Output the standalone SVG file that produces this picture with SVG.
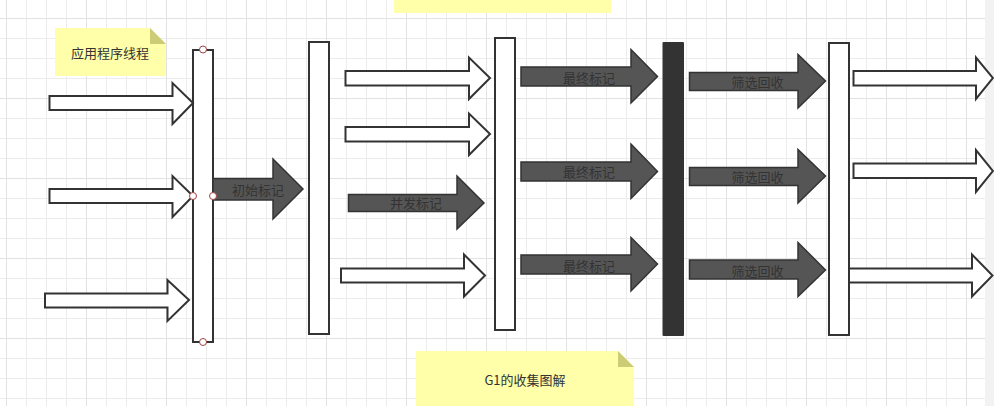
<svg xmlns="http://www.w3.org/2000/svg" width="994" height="406" viewBox="0 0 994 406">
<defs>
<pattern id="minor" patternUnits="userSpaceOnUse" x="6" y="18" width="20" height="20"><rect x="0" y="0" width="20" height="1" fill="#ececec"/><rect x="0" y="0" width="1" height="20" fill="#ececec"/></pattern>
<pattern id="major" patternUnits="userSpaceOnUse" x="6" y="18" width="80" height="80"><rect x="0" y="0" width="80" height="1" fill="#e2e2e2"/><rect x="0" y="0" width="1" height="80" fill="#e2e2e2"/></pattern>
<style>
.bar{fill:#fff;stroke:#333;stroke-width:2}
.wa{fill:#fff;stroke:#333;stroke-width:2;stroke-linejoin:miter}
.da{fill:#555;stroke:#333;stroke-width:1.5}
.note{fill:#ffffaa}
.fold{fill:#cccc77}
.t{font-family:"Noto Sans CJK SC","Liberation Sans",sans-serif;font-size:13px;fill:#333;text-anchor:middle;dominant-baseline:central}
.h{fill:#fff;stroke:#a04444;stroke-width:1}
</style>
</defs>
<rect width="994" height="406" fill="#fff"/>
<rect width="985" height="406" fill="url(#minor)"/>
<rect width="985" height="406" fill="url(#major)"/>
<rect x="985" y="0" width="9" height="406" fill="#f2f2f2"/>

<g id="note-top"><rect class="note" x="394" y="0" width="217" height="13"/></g>
<g id="note-app">
<path class="note" d="M55 28 L150 28 L166 44 L166 76 L55 76 Z"/>
<path class="fold" d="M150 28 L166 44 L150 44 Z"/>
<text class="t" x="110" y="52">应用程序线程</text>
</g>
<g id="note-g1">
<path class="note" d="M416 351 L618 351 L634 367 L634 406 L416 406 Z"/>
<path class="fold" d="M618 351 L634 367 L618 367 Z"/>
<text class="t" x="525" y="379">G1的收集图解</text>
</g>

<g id="bar1"><rect class="bar" x="193" y="50" width="20" height="292"/></g>
<g id="bar2"><rect class="bar" x="309" y="42" width="20" height="292"/></g>
<g id="bar3"><rect class="bar" x="495" y="38" width="20" height="292"/></g>
<g id="bar4"><rect x="662.5" y="42" width="21.5" height="294" rx="1" fill="#333"/></g>
<g id="bar5"><rect class="bar" x="829" y="43" width="20" height="292"/></g>

<g id="arrows">
<g id="a1"><path class="wa" d="M49.5 96 L172.5 96 L172.5 83 L193 103 L172.5 124 L172.5 110 L49.5 110 Z"/></g>
<g id="a2"><path class="wa" d="M49.5 189 L172.5 189 L172.5 176 L193 196 L172.5 217 L172.5 203 L49.5 203 Z"/></g>
<g id="a3"><path class="wa" d="M45 293.5 L167.5 293.5 L167.5 280 L189 300 L167.5 321 L167.5 307.5 L45 307.5 Z"/></g>
<g id="init-mark"><path class="da" d="M213 178.5 L273 178.5 L273 159 L303 189 L273 219 L273 200 L213 200 Z"/><text class="t" x="258" y="189">初始标记</text></g>
<g id="b1"><path class="wa" d="M345.5 71 L469 71 L469 57.5 L490 78 L469 99 L469 85.5 L345.5 85.5 Z"/></g>
<g id="b2"><path class="wa" d="M345.5 127 L469 127 L469 113.5 L490 134 L469 155 L469 141.5 L345.5 141.5 Z"/></g>
<g id="conc-mark"><path class="da" d="M348.5 194.5 L457 194.5 L457 176 L484 203 L457 229 L457 211.5 L348.5 211.5 Z"/><text class="t" x="416" y="202">并发标记</text></g>
<g id="b4"><path class="wa" d="M341 268.5 L464 268.5 L464 254.5 L485 275.5 L464 296.5 L464 282.5 L341 282.5 Z"/></g>
<g id="final1"><path class="da" d="M521 67 L631 67 L631 49.5 L657.5 76.5 L631 103 L631 86 L521 86 Z"/><text class="t" x="589" y="77">最终标记</text></g>
<g id="final2"><path class="da" d="M521 162 L631 162 L631 144 L657.5 171.5 L631 198.5 L631 181 L521 181 Z"/><text class="t" x="589" y="171">最终标记</text></g>
<g id="final3"><path class="da" d="M521 255 L631 255 L631 237.5 L657.5 264 L631 291 L631 274 L521 274 Z"/><text class="t" x="589" y="265">最终标记</text></g>
<g id="sel1"><path class="da" d="M689.5 72.5 L798 72.5 L798 54.5 L825.5 81 L798 108 L798 90.5 L689.5 90.5 Z"/><text class="t" x="757.5" y="81">筛选回收</text></g>
<g id="sel2"><path class="da" d="M689.5 167.5 L798 167.5 L798 149.5 L825.5 176 L798 203 L798 185.5 L689.5 185.5 Z"/><text class="t" x="757.5" y="176">筛选回收</text></g>
<g id="sel3"><path class="da" d="M689.5 260 L798 260 L798 242.5 L825.5 270 L798 296.5 L798 279 L689.5 279 Z"/><text class="t" x="757.5" y="270">筛选回收</text></g>
<g id="e1"><path class="wa" d="M853.5 71 L976 71 L976 57.5 L993 78 L976 99 L976 85.5 L853.5 85.5 Z"/></g>
<g id="e2"><path class="wa" d="M853.5 163.5 L976 163.5 L976 150 L993 171 L976 192 L976 178 L853.5 178 Z"/></g>
<g id="e3"><path class="wa" d="M849 268.5 L972 268.5 L972 254.5 L992.5 275.5 L972 296.5 L972 282.5 L849 282.5 Z"/></g>
</g>

<g id="handles">
<circle class="h" cx="203" cy="49.5" r="3.5"/>
<circle class="h" cx="193" cy="196" r="3.5"/>
<circle class="h" cx="213" cy="196" r="3.5"/>
<circle class="h" cx="203" cy="342" r="3.5"/>
</g>
</svg>
